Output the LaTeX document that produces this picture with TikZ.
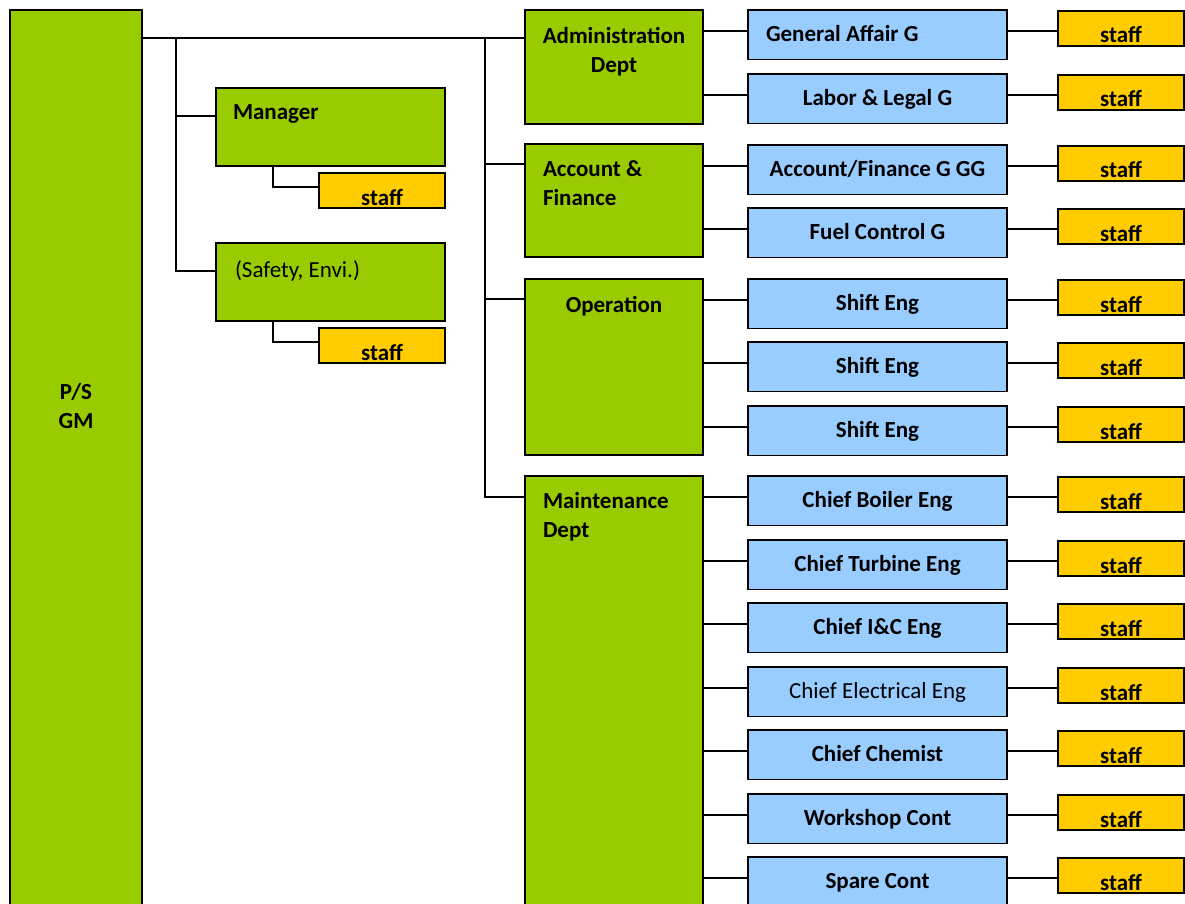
\documentclass[tikz,border=0pt]{standalone}
\usepackage{fontspec}
\setmainfont{Carlito}
\definecolor{gmgreen}{HTML}{99CC00}
\definecolor{grpblue}{HTML}{99CCFF}
\definecolor{stfyel}{HTML}{FFCC00}
\newcommand\orgfont{\fontsize{23}{29}\selectfont}
\tikzset{
  frame/.style={draw=black, line width=1.6pt, inner sep=0pt, outer sep=0pt, anchor=north west},
  gbox/.style={frame, fill=gmgreen},
  bbox/.style={frame, fill=grpblue, minimum width=259pt, minimum height=49.5pt,
    font=\orgfont\bfseries, text height=17pt, text depth=3pt},
  sbox/.style={frame, fill=stfyel, minimum width=126pt, minimum height=35pt,
    font=\orgfont\bfseries, text height=30pt, text depth=1pt},
  lbl/.style={font=\orgfont\bfseries, inner sep=0pt, outer sep=0pt},
  nrm/.style={},
  lft/.style={text width=223pt, align=flush left},
  reg/.style={font=\orgfont},
  link/.style={draw=black, line width=1.6pt},
}
\begin{document}
\begin{tikzpicture}[x=1pt,y=-1pt]
\useasboundingbox (0,0) rectangle (1185,904);
\clip (0,0) rectangle (1185,904);
% general manager
\node[gbox, minimum width=132pt, minimum height=1000pt] (gm) at (10,10) {};
\node[lbl, align=center, anchor=north] (gmt) at (76,383) {P/S\\GM};
% manager / safety
\node[gbox, minimum width=229pt, minimum height=78pt] (mgr) at (216,88) {};
\node[lbl, anchor=base west] (mgrt) at (233,120) {Manager};
\node[gbox, minimum width=229pt, minimum height=78pt] (safe) at (216,243) {};
\node[lbl, font=\orgfont, anchor=base west] (safet) at (235,277) {(Safety, Envi.)};
\node[sbox] (mgrs) at (319,173) {staff};
\node[sbox] (safes) at (319,328) {staff};
% departments
\node[gbox, minimum width=178pt, minimum height=114pt] (admin) at (525,10) {};
\node[lbl, align=center, anchor=north] (admint) at (614,27.5) {Administration\\Dept};
\node[gbox, minimum width=178pt, minimum height=113pt] (acc) at (525,144) {};
\node[lbl, align=left, anchor=north west] (acct) at (543,161) {Account \&\\Finance};
\node[gbox, minimum width=178pt, minimum height=176pt] (op) at (525,279) {};
\node[lbl, anchor=north] (opt) at (614,296) {Operation};
\node[gbox, minimum width=178pt, minimum height=500pt] (mnt) at (525,476) {};
\node[lbl, align=left, anchor=north west] (mntt) at (543,492) {Maintenance\\Dept};
% connectors GM -> departments
\coordinate (admIn) at ([yshift=-28pt]admin.north west);
\coordinate (accIn) at ([yshift=-20pt]acc.north west);
\coordinate (opIn) at ([yshift=-20pt]op.north west);
\coordinate (mntIn) at ([yshift=-21pt]mnt.north west);
\coordinate (mgrIn) at ([yshift=-28pt]mgr.north west);
\coordinate (safeIn) at ([yshift=-28pt]safe.north west);
\coordinate (mgrsIn) at ([yshift=-14pt]mgrs.north west);
\coordinate (safesIn) at ([yshift=-14pt]safes.north west);
\coordinate (trunk) at (485,38);
\coordinate (sub) at (176,38);
\draw[link] (gm.east |- admIn) -- (admIn);
\draw[link] (trunk) |- (mntIn);
\draw[link] (trunk |- accIn) -- (accIn);
\draw[link] (trunk |- opIn) -- (opIn);
\draw[link] (sub) |- (safeIn);
\draw[link] (sub |- mgrIn) -- (mgrIn);
\draw[link] ([xshift=57pt]mgr.south west) |- (mgrsIn);
\draw[link] ([xshift=57pt]safe.south west) |- (safesIn);
% groups and staff
\foreach \n/\t/\txt/\d/\st in {
  ga/10/General Affair G/admin/lft,
  ll/74/Labor \& Legal G/admin/nrm,
  af/145/{Account/Finance G GG}/acc/nrm,
  fc/208/Fuel Control G/acc/nrm,
  se1/279/Shift Eng/op/nrm,
  se2/342/Shift Eng/op/nrm,
  se3/406/Shift Eng/op/nrm,
  cb/476/Chief Boiler Eng/mnt/nrm,
  ct/540/Chief Turbine Eng/mnt/nrm,
  ci/603/Chief I\&C Eng/mnt/nrm,
  ce/667/Chief Electrical Eng/mnt/reg,
  cc/730/Chief Chemist/mnt/nrm,
  wc/794/Workshop Cont/mnt/nrm,
  sc/857/Spare Cont/mnt/nrm}{
  \node[bbox,\st] (\n) at (748,\t) {\txt};
  \node[sbox] (\n s) at (1058,\t+1) {staff};
  \coordinate (\n in) at ([yshift=-21pt]\n.north west);
  \coordinate (\n out) at ([yshift=-21pt]\n.north east);
  \draw[link] (\d.east |- \n in) -- (\n in);
  \draw[link] (\n out) -- (\n s.west |- \n out);
}
\end{tikzpicture}
\end{document}
